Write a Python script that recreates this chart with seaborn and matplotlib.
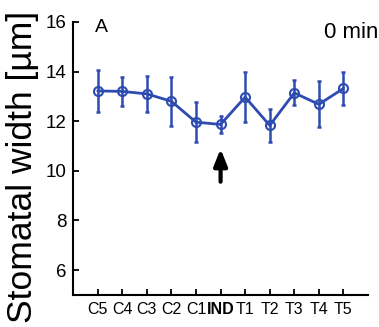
import seaborn as sns
import matplotlib.pyplot as plt
import numpy as np
import pandas as pd

sns.set_style("ticks")
plt.rcParams['font.family'] = ['Liberation Sans', 'DejaVu Sans']
for k in ['text.color', 'axes.labelcolor', 'xtick.color', 'ytick.color', 'axes.edgecolor']:
    plt.rcParams[k] = 'black'

# stomatal width per position, mean and error
positions = ['C5', 'C4', 'C3', 'C2', 'C1', 'IND', 'T1', 'T2', 'T3', 'T4', 'T5']
width_mean = [13.22, 13.20, 13.10, 12.80, 11.96, 11.87, 12.97, 11.83, 13.14, 12.68, 13.32]
width_err = [0.85, 0.60, 0.72, 1.00, 0.80, 0.35, 1.00, 0.67, 0.50, 0.92, 0.66]

blue = '#2d4bb0'
df = pd.DataFrame({'pos': np.arange(len(positions)), 'width': width_mean, 'err': width_err})

fig = plt.figure(figsize=(3.79, 3.27), dpi=100)
ax = fig.add_axes([0.193, 0.098, 0.778, 0.835])

ax.errorbar(df['pos'], df['width'], yerr=df['err'], fmt='none', ecolor=blue,
            elinewidth=1.8, capsize=1.2, capthick=1.8, zorder=2)
sns.lineplot(data=df, x='pos', y='width', color=blue, lw=2, marker='o',
             markersize=6.5, markerfacecolor='none', markeredgecolor=blue,
             markeredgewidth=1.5, ax=ax, zorder=3)

ax.annotate('', xy=(5, 11.0), xytext=(5, 9.45),
            arrowprops=dict(arrowstyle='-|>,head_width=0.4,head_length=1.0',
                            color='black', lw=3))

ax.set_xlim(-1, 11)
ax.set_ylim(5, 16)
ax.set_yticks([6, 8, 10, 12, 14, 16])
ax.set_xticks(df['pos'])
ax.set_xticklabels(positions, fontsize=11.5)
ax.get_xticklabels()[5].set_fontweight('bold')
ax.tick_params(axis='y', labelsize=13.5, direction='in', length=4, width=1.3, pad=5)
ax.tick_params(axis='x', direction='in', length=4, width=1.3, pad=5)
for s in ['left', 'bottom']:
    ax.spines[s].set_linewidth(1.5)
sns.despine(ax=ax)

ax.set_xlabel('')
ax.set_ylabel('Stomatal width [µm]', fontsize=25.5)
ax.yaxis.set_label_coords(-0.115, 0.47)
ax.text(0.075, 1.01, 'A', transform=ax.transAxes, fontsize=14, va='top')
ax.text(1.035, 1.0, '0 min', transform=ax.transAxes, fontsize=16, va='top', ha='right')

plt.savefig('out.png', dpi=100)
plt.close()
